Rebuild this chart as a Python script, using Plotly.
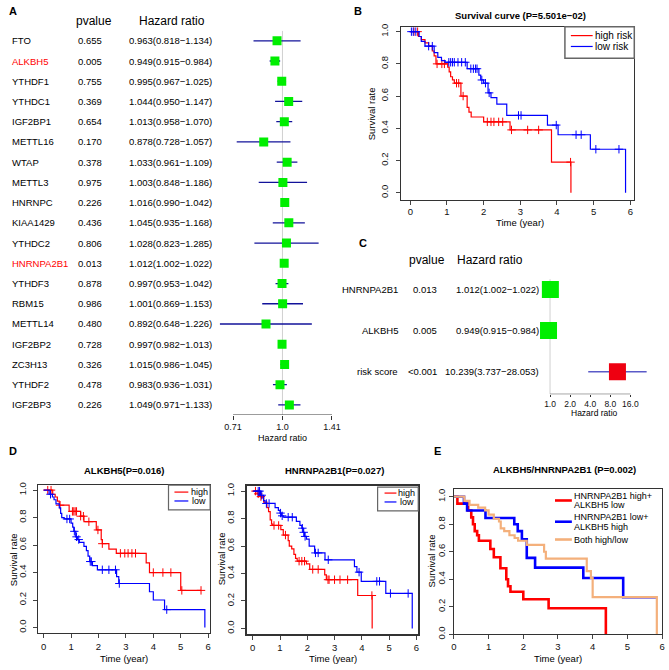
import math
import plotly.graph_objects as go

# ---------------- data ----------------
# Panel A: univariate Cox
genes_a = ["FTO", "ALKBH5", "YTHDF1", "YTHDC1", "IGF2BP1", "METTL16", "WTAP", "METTL3", "HNRNPC",
           "KIAA1429", "YTHDC2", "HNRNPA2B1", "YTHDF3", "RBM15", "METTL14", "IGF2BP2", "ZC3H13",
           "YTHDF2", "IGF2BP3"]
pval_a = [0.655, 0.005, 0.755, 0.369, 0.654, 0.170, 0.378, 0.975, 0.226, 0.436, 0.806, 0.013,
          0.878, 0.986, 0.480, 0.728, 0.326, 0.478, 0.226]
hr_a = [0.963, 0.949, 0.995, 1.044, 1.013, 0.878, 1.033, 1.003, 1.016, 1.045, 1.028, 1.012,
        0.997, 1.001, 0.892, 0.997, 1.015, 0.983, 1.049]
lo_a = [0.818, 0.915, 0.967, 0.950, 0.958, 0.728, 0.961, 0.848, 0.990, 0.935, 0.823, 1.002,
        0.953, 0.869, 0.648, 0.982, 0.986, 0.936, 0.971]
hi_a = [1.134, 0.984, 1.025, 1.147, 1.070, 1.057, 1.109, 1.186, 1.042, 1.168, 1.285, 1.022,
        1.042, 1.153, 1.226, 1.013, 1.045, 1.031, 1.133]
highlight_a = ["ALKBH5", "HNRNPA2B1"]
ticks_a = [0.71, 1.0, 1.41]
ticktext_a = ["0.71", "1.0", "1.41"]

# Panel C: multivariate Cox
genes_c = ["HNRNPA2B1", "ALKBH5", "risk score"]
pval_c = ["0.013", "0.005", "<0.001"]
hr_c = [1.012, 0.949, 10.239]
lo_c = [1.002, 0.915, 3.737]
hi_c = [1.022, 0.984, 28.053]
ticks_c = [1, 2, 4, 8, 16]
ticktext_c = ["1.0", "2.0", "4.0", "8.0", "16.0"]

# Panel B: risk groups
b_high_t = [0, 0.22, 0.3, 0.4, 0.5, 0.6, 0.65, 0.7, 1.02, 1.06, 1.1, 1.15, 1.2, 1.38, 1.55, 1.6, 1.66, 2.0, 2.72, 3.85, 4.38]
b_high_s = [1.0, 0.97, 0.95, 0.93, 0.91, 0.88, 0.85, 0.80, 0.78, 0.75, 0.72, 0.70, 0.68, 0.60, 0.53, 0.50, 0.47, 0.44, 0.39, 0.19, 0.0]
b_high_cens = [0.1, 0.2, 0.73, 0.86, 0.93, 1.26, 1.32, 1.44, 2.1, 2.2, 2.28, 2.41, 2.52, 2.76, 3.2, 3.5, 4.37]
b_low_t = [0, 0.24, 0.3, 0.4, 0.65, 0.75, 0.85, 0.95, 1.55, 1.87, 1.92, 2.0, 2.12, 2.2, 2.36, 2.63, 3.74, 4.03, 4.91, 5.87]
b_low_s = [1.0, 0.97, 0.94, 0.91, 0.87, 0.84, 0.82, 0.81, 0.77, 0.73, 0.70, 0.68, 0.62, 0.59, 0.55, 0.48, 0.42, 0.36, 0.27, 0.0]
b_low_cens = [0.03, 0.08, 0.15, 0.5, 0.6, 1.05, 1.1, 1.15, 1.2, 1.3, 1.4, 1.5, 1.65, 1.72, 1.78, 1.82, 1.95, 2.05,
              2.15, 2.95, 3.02, 3.98, 4.52, 4.66, 5.06, 5.69]

# Panel D1: ALKBH5 high / low
d1_high_t = [0, 0.33, 0.42, 0.5, 0.57, 0.93, 1.35, 1.47, 1.92, 2.1, 2.14, 2.38, 2.65, 3.74, 3.86, 5.0]
d1_high_s = [1.0, 0.97, 0.95, 0.92, 0.89, 0.845, 0.81, 0.77, 0.71, 0.64, 0.61, 0.57, 0.54, 0.47, 0.40, 0.27]
d1_high_cens = [0.15, 0.27, 0.6, 1.05, 1.1, 1.15, 1.2, 1.35, 1.45, 1.65, 1.98, 2.14, 2.8, 2.96, 3.08, 3.22, 3.35,
                4.0, 4.35, 4.64, 5.04, 5.74]
d1_low_t = [0, 0.2, 0.32, 0.38, 0.45, 0.57, 0.62, 0.66, 0.75, 1.0, 1.06, 1.1, 1.17, 1.23, 1.3, 1.47, 1.56, 1.62,
            1.68, 1.78, 1.96, 2.66, 2.74, 3.86, 4.0, 4.41, 5.88]
d1_low_s = [1.0, 0.97, 0.95, 0.93, 0.90, 0.87, 0.83, 0.80, 0.79, 0.76, 0.73, 0.70, 0.66, 0.64, 0.62, 0.59, 0.56,
            0.52, 0.48, 0.45, 0.42, 0.37, 0.32, 0.26, 0.20, 0.13, 0.0]
d1_low_cens = [0.25, 0.85, 0.95, 1.12, 1.2, 1.28, 1.7, 1.74, 2.14, 2.38, 2.62, 2.76, 4.49]

# Panel D2: HNRNPA2B1 high / low
d2_high_t = [0, 0.16, 0.22, 0.28, 0.34, 0.4, 0.52, 0.58, 0.64, 0.69, 0.74, 1.03, 1.12, 1.3, 1.34, 1.43, 1.51,
             1.57, 1.63, 1.97, 2.09, 2.64, 2.7, 3.85, 4.38]
d2_high_s = [1.0, 0.98, 0.97, 0.96, 0.95, 0.92, 0.88, 0.85, 0.79, 0.76, 0.75, 0.72, 0.68, 0.64, 0.60, 0.58, 0.54,
             0.51, 0.49, 0.47, 0.43, 0.39, 0.355, 0.24, 0.0]
d2_high_cens = [0.1, 0.2, 0.3, 0.78, 0.95, 1.2, 1.7, 1.8, 1.9, 2.2, 2.4, 2.76, 2.8, 3.0, 3.2, 3.48, 4.37]
d2_low_t = [0, 0.28, 0.4, 0.45, 0.82, 0.94, 1.0, 1.06, 1.12, 1.6, 1.73, 1.8, 1.85, 1.9, 1.97, 2.07, 2.27, 2.65,
            3.73, 3.82, 3.98, 4.88, 5.85]
d2_low_s = [1.0, 0.97, 0.93, 0.91, 0.88, 0.86, 0.84, 0.82, 0.81, 0.78, 0.75, 0.73, 0.70, 0.67, 0.65, 0.60, 0.55,
            0.50, 0.45, 0.41, 0.343, 0.255, 0.0]
d2_low_cens = [0.2, 0.25, 0.33, 0.5, 0.6, 1.02, 1.08, 1.3, 1.45, 1.82, 1.87, 1.92, 2.3, 2.4, 2.77, 3.9, 4.55,
               4.65, 5.05, 5.7]

# Panel E: combined groups
e_red_t = [0, 0.1, 0.41, 0.5, 0.55, 0.6, 0.67, 0.72, 1.05, 1.15, 1.34, 1.51, 1.56, 1.63, 2.0, 2.73, 4.38]
e_red_s = [1.0, 0.95, 0.90, 0.85, 0.80, 0.75, 0.72, 0.68, 0.62, 0.56, 0.48, 0.40, 0.35, 0.31, 0.255, 0.19, 0.0]
e_blue_t = [0, 0.29, 0.38, 0.91, 1.74, 1.84, 1.96, 2.1, 2.34, 3.73, 4.88, 5.84]
e_blue_s = [1.0, 0.95, 0.90, 0.845, 0.80, 0.75, 0.69, 0.556, 0.485, 0.41, 0.27, 0.27]
e_or_t = [0, 0.3, 0.45, 0.7, 0.9, 1.0, 1.15, 1.3, 1.35, 1.45, 1.6, 1.75, 1.85, 2.1, 2.6, 2.65, 3.83, 3.95, 4.0, 5.85]
e_or_s = [1.0, 0.97, 0.94, 0.92, 0.90, 0.87, 0.84, 0.82, 0.77, 0.75, 0.72, 0.70, 0.68, 0.65, 0.60, 0.55, 0.46,
          0.41, 0.27, 0.0]
e_labels = [["HNRNPA2B1 high+", "ALKBH5 low"], ["HNRNPA2B1 low+", "ALKBH5 high"], ["Both high/low"]]

surv_ticks = [0, 0.2, 0.4, 0.6, 0.8, 1.0]
time_ticks = [0, 1, 2, 3, 4, 5, 6]

# ---------------- helpers ----------------
W, H = 669, 670
FONT = "Liberation Sans, Arial, Helvetica, sans-serif"
RED, BLUE, ORANGE = "#FF0000", "#0000FF", "#F4B07B"
GREEN = "#00EE00"


def fx(p):
    return p / W


def fy(p):
    return 1 - p / H


def surv_at(ts, ss, t):
    v = ss[0]
    for ti, si in zip(ts, ss):
        if ti <= t:
            v = si
    return v


fig = go.Figure()
ann = []
shapes = []


def text(x, y, s, size=9.5, color="black", xanchor="center", bold=False, xref="paper", yref="paper", angle=0):
    ann.append(dict(x=x, y=y, xref=xref, yref=yref, text=("<b>%s</b>" % s) if bold else s, showarrow=False,
                    xanchor=xanchor, yanchor="middle", textangle=angle, borderpad=0,
                    font=dict(family=FONT, size=size, color=color)))


def seg(xs, ys, color, width, xa, ya):
    fig.add_trace(go.Scatter(x=xs, y=ys, mode="lines", line=dict(color=color, width=width),
                             xaxis=xa, yaxis=ya, showlegend=False, hoverinfo="skip"))


def km(ts, ss, cens, color, xa, ya, width=1.2, marks=True):
    xs = list(ts)
    ys = list(ss)
    end = max(cens) if cens else xs[-1]
    if end > xs[-1]:
        xs.append(end)
        ys.append(ys[-1])
    fig.add_trace(go.Scatter(x=xs, y=ys, mode="lines", line=dict(color=color, width=width, shape="hv"),
                             xaxis=xa, yaxis=ya, showlegend=False, hoverinfo="skip"))
    if marks and cens:
        fig.add_trace(go.Scatter(x=cens, y=[surv_at(ts, ss, c) for c in cens], mode="markers",
                                 marker=dict(symbol="cross-thin", size=6, line=dict(color=color, width=1)),
                                 xaxis=xa, yaxis=ya, showlegend=False, hoverinfo="skip"))


# ---------------- Panel A ----------------
rows_a = list(range(len(genes_a)))
nA = len(genes_a)
seg([1.0, 1.0], [-0.5, nA - 0.5], "#D0D0D0", 1, "x", "y")
seg([ticks_a[0], ticks_a[-1]], [nA - 0.5, nA - 0.5], "#333", 1, "x", "y")
fig.add_trace(go.Scatter(
    x=hr_a, y=rows_a, mode="markers", xaxis="x", yaxis="y", showlegend=False,
    marker=dict(symbol="square", size=9, color=GREEN, line=dict(width=0)),
    error_x=dict(type="data", symmetric=False, array=[h - r for h, r in zip(hi_a, hr_a)],
                 arrayminus=[r - l for r, l in zip(hr_a, lo_a)], color="#12129A", thickness=1.3, width=0)))
text(fx(5), fy(8), "A", size=11, bold=True, xanchor="left")
text(fx(92), fy(18), "pvalue", size=12)
text(fx(171), fy(18), "Hazard ratio", size=12)
for i, g in enumerate(genes_a):
    col = RED if g in highlight_a else "black"
    text(fx(8), i, g, color=col, xanchor="left", yref="y")
    text(fx(74.5), i, "%.3f" % pval_a[i], xanchor="left", yref="y")
    text(fx(126.5), i, "%.3f(%.3f\u2212%.3f)" % (hr_a[i], lo_a[i], hi_a[i]), xanchor="left", yref="y")
text(fx(282), fy(440), "Hazard ratio", size=9)

# ---------------- Panel C ----------------
rows_c = list(range(len(genes_c)))
seg([1.0, 1.0], [-0.25, 2.55], "#D0D0D0", 1, "x3", "y3")
seg([ticks_c[0], ticks_c[-1]], [2.55, 2.55], "#333", 1, "x3", "y3")
fig.add_trace(go.Scatter(
    x=hr_c, y=rows_c, mode="markers", xaxis="x3", yaxis="y3", showlegend=False,
    marker=dict(symbol="square", size=17, color=[GREEN, GREEN, "#EE0011"], line=dict(width=0)),
    error_x=dict(type="data", symmetric=False, array=[h - r for h, r in zip(hi_c, hr_c)],
                 arrayminus=[r - l for r, l in zip(hr_c, lo_c)], color="#5A5AC8", thickness=1.5, width=0)))
text(fx(363), fy(243), "C", size=11, bold=True)
text(fx(428), fy(260), "pvalue", size=12)
text(fx(491), fy(260), "Hazard ratio", size=12)
for i, g in enumerate(genes_c):
    text(fx(400), i, g, xanchor="right", yref="y3")
    text(fx(439), i, pval_c[i], xanchor="right", yref="y3")
    text(fx(542), i, "%.3f(%.3f\u2212%.3f)" % (hr_c[i], lo_c[i], hi_c[i]), xanchor="right", yref="y3")
text(fx(597), fy(415), "Hazard ratio", size=8.5)

# ---------------- Panel B ----------------
km(b_high_t, b_high_s, b_high_cens, RED, "x2", "y2")
km(b_low_t, b_low_s, b_low_cens, BLUE, "x2", "y2")
text(fx(358), fy(8), "B", size=11, bold=True)
text(fx(522), fy(13), "Survival curve (P=5.501e\u221202)", bold=True)
text(fx(522), fy(222.5), "Time (year)")
text(fx(372), fy(112), "Survival rate", angle=-90)
shapes.append(dict(type="rect", xref="paper", yref="paper", x0=fx(567), x1=fx(637), y0=fy(56), y1=fy(24),
                   line=dict(color="#666", width=1.5)))
for yy, col, lab in [(33, RED, "high risk"), (44, BLUE, "low risk")]:
    shapes.append(dict(type="line", xref="paper", yref="paper", x0=fx(573), x1=fx(595), y0=fy(yy), y1=fy(yy),
                       line=dict(color=col, width=1.2)))
    text(fx(596), fy(yy), lab, size=10, xanchor="left")

# ---------------- Panel D ----------------
km(d1_high_t, d1_high_s, d1_high_cens, RED, "x4", "y4")
km(d1_low_t, d1_low_s, d1_low_cens, BLUE, "x4", "y4")
km(d2_high_t, d2_high_s, d2_high_cens, RED, "x5", "y5")
km(d2_low_t, d2_low_s, d2_low_cens, BLUE, "x5", "y5")
text(fx(5), fy(453), "D", size=11, bold=True, xanchor="left")
text(fx(123), fy(473), "ALKBH5(P=0.016)", bold=True)
text(fx(335), fy(473), "HNRNPA2B1(P=0.027)", bold=True)
for cx, sx in [(122, 10), (333, 220)]:
    text(fx(cx), fy(663.5), "Time (year)")
    text(fx(sx), fy(563), "Survival rate", angle=-90)
for (x0, x1, y0, y1, lx0, lx1, tcx, ry, by) in [(167, 209, 488, 513, 173, 187, 198, 495, 504),
                                                 (378, 419, 490, 514, 385, 397, 407.5, 496, 505)]:
    shapes.append(dict(type="rect", xref="paper", yref="paper", x0=fx(x0), x1=fx(x1), y0=fy(y1), y1=fy(y0),
                       line=dict(color="#666", width=1.2)))
    for yy, col, lab in [(ry, RED, "high"), (by, BLUE, "low")]:
        shapes.append(dict(type="line", xref="paper", yref="paper", x0=fx(lx0), x1=fx(lx1), y0=fy(yy),
                           y1=fy(yy), line=dict(color=col, width=1.2)))
        text(fx(tcx), fy(yy), lab, size=9)

# ---------------- Panel E ----------------
km(e_red_t, e_red_s, [], RED, "x6", "y6", width=2.6, marks=False)
km(e_blue_t, e_blue_s, [], BLUE, "x6", "y6", width=2.6, marks=False)
km(e_or_t, e_or_s, [], ORANGE, "x6", "y6", width=2.2, marks=False)
text(fx(438), fy(453), "E", size=11, bold=True)
text(fx(567), fy(472), "ALKBH5/HNRNPA2B1 (P=0.002)", bold=True)
text(fx(560), fy(663), "Time (year)")
text(fx(432), fy(565), "Survival rate", angle=-90)
for (ly, tys), col, labs in zip([(503.5, [498.5, 508.5]), (525, [520, 530]), (543, [543])],
                                [RED, BLUE, ORANGE], e_labels):
    shapes.append(dict(type="line", xref="paper", yref="paper", x0=fx(557), x1=fx(574), y0=fy(ly), y1=fy(ly),
                       line=dict(color=col, width=2.6)))
    for ty, lab in zip(tys, labs):
        text(fx(575.5), fy(ty), lab, size=9, xanchor="left")

# ---------------- axes ----------------
tickfont = dict(family=FONT, size=9.5, color="#111")


def km_axes(xd, yd, xr, yr, lw=1, ystand=0, xstand=0):
    xa = dict(domain=[fx(xd[0]), fx(xd[1])], range=xr, tickvals=time_ticks, ticks="outside", ticklen=4,
              showline=True, mirror=True, linecolor="#333", linewidth=lw, showgrid=False, zeroline=False,
              tickfont=tickfont, fixedrange=True, ticklabelstandoff=xstand)
    ya = dict(domain=[fy(yd[1]), fy(yd[0])], range=yr, tickvals=surv_ticks,
              ticktext=["%.1f" % v for v in surv_ticks], tickangle=-90, ticks="outside", ticklen=4,
              showline=True, mirror=True, linecolor="#333", linewidth=lw, showgrid=False, zeroline=False,
              tickfont=tickfont, fixedrange=True, ticklabelstandoff=ystand)
    return xa, ya


xa2, ya2 = km_axes((402, 637), (24, 199), [-0.243, 6.108], [-0.0429, 1.0307], ystand=5, xstand=-1)
xa4, ya4 = km_axes((35, 209), (488, 638), [-0.217, 6.072], [-0.043, 1.036], ystand=3, xstand=0)
xa5, ya5 = km_axes((246, 419), (489, 639), [-0.218, 6.07], [-0.043, 1.036], lw=2, ystand=3, xstand=-1)
xa6, ya6 = km_axes((455, 665), (492, 639), [0, 6], [0, 1.055], xstand=-1)
xa2["anchor"], ya2["anchor"] = "y2", "x2"
xa4["anchor"], ya4["anchor"] = "y4", "x4"
xa5["anchor"], ya5["anchor"] = "y5", "x5"
xa6["anchor"], ya6["anchor"] = "y6", "x6"

fig.update_layout(
    width=W, height=H, margin=dict(l=0, r=0, t=0, b=0),
    paper_bgcolor="white", plot_bgcolor="rgba(0,0,0,0)",
    font=dict(family=FONT, size=9.5, color="black"),
    showlegend=False,
    xaxis=dict(domain=[fx(212), fx(345)], type="log", range=[-0.209, 0.1881], anchor="y",
               tickvals=ticks_a, ticktext=ticktext_a, ticks="outside", ticklen=4, tickcolor="#333",
               showline=False, showgrid=False, zeroline=False, tickfont=dict(family=FONT, size=9, color="#111"),
               fixedrange=True, ticklabelstandoff=-1),
    yaxis=dict(domain=[fy(417), fy(28)], range=[nA - 0.5, -0.5], anchor="x",
               visible=False, fixedrange=True),
    xaxis3=dict(domain=[fx(540), fx(662)], type="log", range=[-0.178, 1.634], anchor="y3",
                tickvals=ticks_c, ticktext=ticktext_c, ticks="outside", ticklen=2, tickcolor="#333",
                showline=False, showgrid=False, zeroline=False, tickfont=dict(family=FONT, size=8.5, color="#111"),
                fixedrange=True),
    yaxis3=dict(domain=[fy(396), fy(270)], range=[2.55, -0.48], anchor="x3", visible=False, fixedrange=True),
    xaxis2=xa2, yaxis2=ya2, xaxis4=xa4, yaxis4=ya4, xaxis5=xa5, yaxis5=ya5, xaxis6=xa6, yaxis6=ya6,
    annotations=ann, shapes=shapes,
)

fig.write_html("out.html", config={"displayModeBar": False, "staticPlot": True},
               post_script="document.body.style.margin='0px';")
